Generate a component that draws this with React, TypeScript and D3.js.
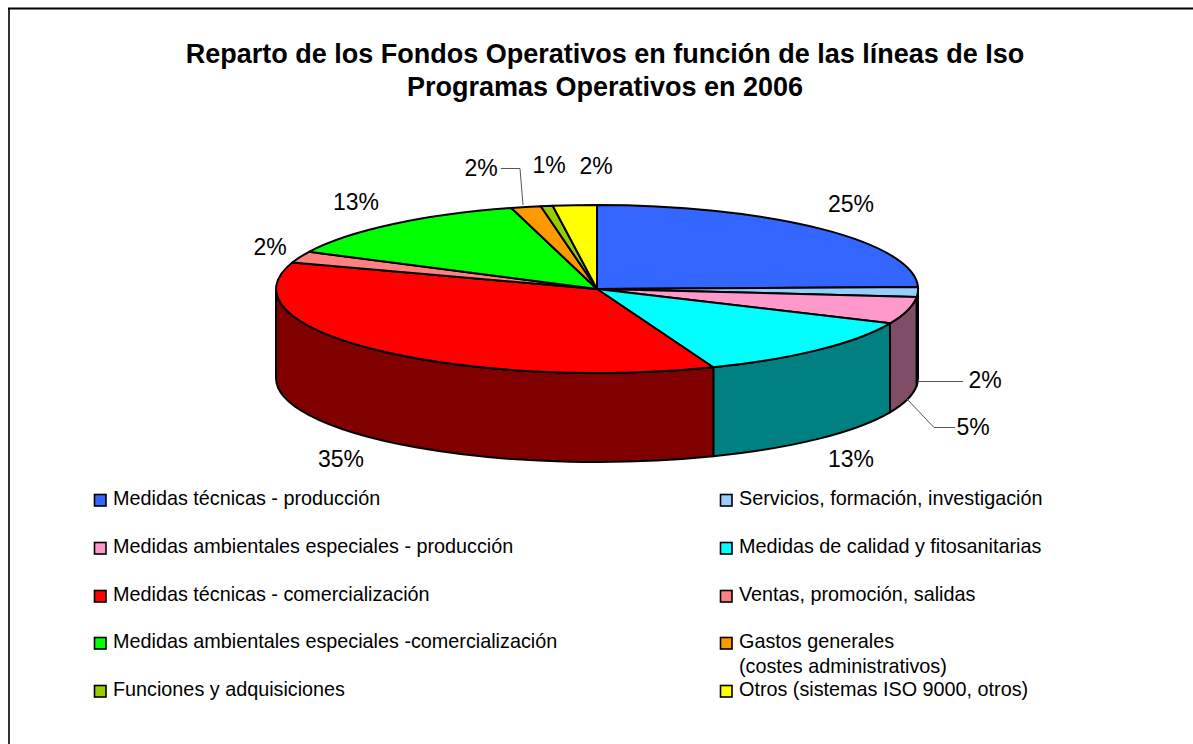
import React from "react";
import * as d3 from "d3";

const categories = [
  "Medidas técnicas - producción",
  "Servicios, formación, investigación",
  "Medidas ambientales especiales - producción",
  "Medidas de calidad y fitosanitarias",
  "Medidas técnicas - comercialización",
  "Ventas, promoción, salidas",
  "Medidas ambientales especiales -comercialización",
  "Gastos generales\n(costes administrativos)",
  "Funciones y adquisiciones",
  "Otros (sistemas ISO 9000, otros)",
];
const shares = [24.6, 1.9, 5.2, 12.4, 36.0, 2.2, 13.4, 1.5, 0.6, 2.2];
const printedLabels = ["25%", "2%", "5%", "13%", "35%", "2%", "13%", "2%", "1%", "2%"];
const topColors = ["#3366ff", "#99ccff", "#ff99cc", "#00ffff", "#ff0000", "#ff8080", "#00ff00", "#ff9900", "#99cc00", "#ffff00"];
const sideColors = ["#1a3380", "#000000", "#804d66", "#008080", "#800000", "#804040", "#008000", "#804d00", "#4d6600", "#808000"];
const titleLines = ["Reparto de los Fondos Operativos en función de las líneas de Iso", "Programas Operativos en 2006"];

const labelPos = [[851, 204], [985, 380], [973, 427], [851, 459], [341, 459], [270, 247], [356, 202], [481, 168], [549, 165], [596, 166]];
const legendX = [94, 720];
const legendY = [494, 542, 590, 637, 685];

const cx = 597, cy = 289, rx = 321, ry = 84, depth = 89;
const X = (t: number) => cx + rx * Math.sin(t);
const Y = (t: number) => cy - ry * Math.cos(t);

const pieGen = d3.pie<number>().sort(null).value((d) => d);
const arcs = pieGen(shares);
const unitArc = d3.arc<d3.PieArcDatum<number>>().innerRadius(0).outerRadius(1);

function sidePath(a0: number, a1: number) {
  const s = Math.max(a0, Math.PI / 2), e = Math.min(a1, (3 * Math.PI) / 2);
  if (e <= s) return null;
  const large = 0;
  return `M${X(s)},${Y(s)}A${rx},${ry} 0 ${large} 1 ${X(e)},${Y(e)}L${X(e)},${Y(e) + depth}A${rx},${ry} 0 ${large} 0 ${X(s)},${Y(s) + depth}Z`;
}

const FONT = "Liberation Sans, Arial, sans-serif";

export default function App() {
  return (
    <svg width={1193} height={744} style={{ position: "absolute", left: 0, top: 0, background: "#fff" }} fontFamily={FONT}>
      <path d="M9,744V9" fill="none" stroke="#333" strokeWidth={2} />
      <path d="M8,8.5H1193" fill="none" stroke="#000" strokeWidth={2} />
      {titleLines.map((t, i) => (
        <text key={i} x={605} y={63 + i * 33} textAnchor="middle" fontSize={27} fontWeight="bold" fill="#000">{t}</text>
      ))}
      {arcs.map((a, i) => {
        const d = sidePath(a.startAngle, a.endAngle);
        return d ? <path key={i} d={d} fill={sideColors[i]} stroke="#000" strokeWidth={2} strokeLinejoin="round" /> : null;
      })}
      <g transform={`translate(${cx},${cy}) scale(${rx},${ry})`}>
        {arcs.map((a, i) => (
          <path key={i} d={unitArc(a) as string} fill={topColors[i]} stroke="#000" strokeWidth={2} strokeLinejoin="round" vectorEffect="non-scaling-stroke" />
        ))}
      </g>
      <path d="M501,168.5H520L523,205" fill="none" stroke="#555" strokeWidth={1} />
      <path d="M918,381.5H963" fill="none" stroke="#555" strokeWidth={1} />
      <path d="M907,399L934,427.5H955" fill="none" stroke="#555" strokeWidth={1} />
      {printedLabels.map((t, i) => (
        <text key={i} x={labelPos[i][0]} y={labelPos[i][1]} dy="0.35em" textAnchor="middle" fontSize={23} fill="#000">{t}</text>
      ))}
      {categories.map((c, i) => {
        const col = i % 2, row = Math.floor(i / 2);
        const x = legendX[col], y = legendY[row];
        return (
          <g key={i}>
            <rect x={x + 0.5} y={y + 0.5} width={11.5} height={11.5} fill={topColors[i]} stroke="#000" strokeWidth={1.6} />
            {c.split("\n").map((l, j) => (
              <text key={j} x={x + 19} y={y + 11 + j * 25} fontSize={19.8} fill="#000">{l}</text>
            ))}
          </g>
        );
      })}
    </svg>
  );
}
